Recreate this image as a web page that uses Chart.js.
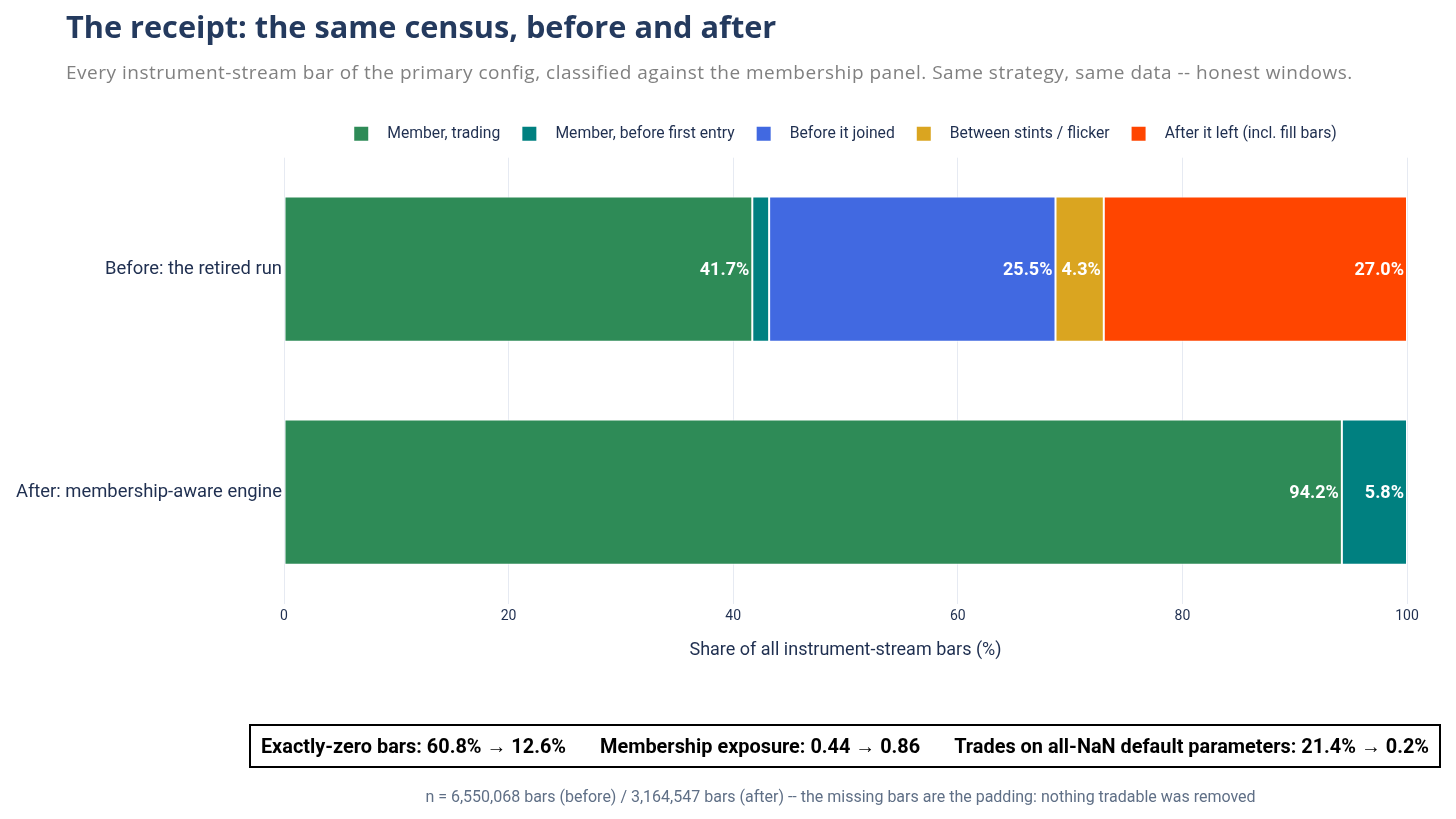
<!DOCTYPE html>
<html>
<head>
<meta charset="utf-8">
<script src="https://cdn.jsdelivr.net/npm/chart.js@4.4.1/dist/chart.umd.min.js"></script>
<style>
  html, body { margin:0; padding:0; background:#fff; }
  body { width:1456px; height:819px; position:relative; overflow:hidden; font-family: Roboto, "Noto Sans", sans-serif; }
  #wrap { position:absolute; left:0; top:0; width:1456px; height:819px; }
  #title { position:absolute; left:66px; top:5px; font-family: "Open Sans", Lato, sans-serif; font-weight:700; font-size:30.7px; color:#243a5e; white-space:nowrap; }
  #subtitle { position:absolute; left:66px; top:59px; font-family: "Open Sans", Lato, sans-serif; font-weight:400; font-size:19px; letter-spacing:0.5px; color:#808080; white-space:nowrap; }
  #box { position:absolute; left:249px; top:724px; width:1188px; height:40px; border:2px solid #000; display:flex; align-items:center; justify-content:center; font-family: Roboto, sans-serif; font-weight:700; font-size:19.9px; color:#000; white-space:nowrap; }
  #box span + span { margin-left:34px; }
  #foot { position:absolute; left:0; width:1681px; top:787px; text-align:center; font-family: Roboto, sans-serif; font-size:16px; color:#5f6f86; white-space:nowrap; }
</style>
</head>
<body>
<div id="wrap"><canvas id="c" width="1456" height="819"></canvas></div>
<div id="title">The receipt: the same census, before and after</div>
<div id="subtitle">Every instrument-stream bar of the primary config, classified against the membership panel. Same strategy, same data -- honest windows.</div>
<div id="box"><span>Exactly-zero bars: 60.8% &rarr; 12.6%</span><span>Membership exposure: 0.44 &rarr; 0.86</span><span>Trades on all-NaN default parameters: 21.4% &rarr; 0.2%</span></div>
<div id="foot">n = 6,550,068 bars (before) / 3,164,547 bars (after) -- the missing bars are the padding: nothing tradable was removed</div>
<script>
const categories = ["Before: the retired run", "After: membership-aware engine"];
const seriesNames = ["Member, trading", "Member, before first entry", "Before it joined", "Between stints / flicker", "After it left (incl. fill bars)"];
const memberTrading = [41.7, 94.2];
const memberBeforeEntry = [1.5, 5.8];
const beforeJoined = [25.5, 0];
const betweenStints = [4.3, 0];
const afterLeft = [27.0, 0];
const seriesColors = ["#2E8B57", "#008080", "#4169E1", "#DAA520", "#FF4500"];
const xTicks = [0, 20, 40, 60, 80, 100];

const seriesValues = [memberTrading, memberBeforeEntry, beforeJoined, betweenStints, afterLeft];

const datasets = seriesValues.map((vals, i) => ({
  label: seriesNames[i],
  data: vals,
  backgroundColor: seriesColors[i],
  borderColor: "rgba(255,255,255,0.85)",
  borderWidth: 1,
  borderSkipped: false,
  categoryPercentage: 0.8,
  barPercentage: 0.815
}));

const labelPlugin = {
  id: 'segLabels',
  afterDatasetsDraw(chart) {
    const ctx = chart.ctx;
    ctx.save();
    ctx.font = "700 18px Roboto";
    ctx.fillStyle = "#ffffff";
    ctx.textAlign = "right";
    ctx.textBaseline = "middle";
    chart.data.datasets.forEach((ds, di) => {
      const meta = chart.getDatasetMeta(di);
      meta.data.forEach((el, i) => {
        const v = ds.data[i];
        if (v >= 2) {
          ctx.fillText(v.toFixed(1) + "%", el.x - 3, el.y + 1);
        }
      });
    });
    ctx.restore();
  }
};

const legendMargin = {
  id: 'legendMargin',
  beforeInit(chart) {
    const fit = chart.legend.fit;
    chart.legend.fit = function() { fit.bind(chart.legend)(); this.height += 6; };
  }
};

new Chart(document.getElementById('c'), {
  type: 'bar',
  data: { labels: categories, datasets: datasets },
  options: {
    responsive: false,
    animation: false,
    indexAxis: 'y',
    layout: { padding: { left: 0, right: 49, top: 104, bottom: 154 } },
    plugins: {
      legend: {
        display: true,
        position: 'top',
        fullSize: false,
        labels: {
          boxWidth: 14,
          boxHeight: 14,
          padding: 22,
          color: "#1f2f50",
          font: { family: "Roboto", size: 15.7 },
          generateLabels(chart) {
            return chart.data.datasets.map((ds, i) => ({
              text: "\u2002\u2009" + ds.label,
              fillStyle: ds.backgroundColor,
              strokeStyle: ds.backgroundColor,
              lineWidth: 0,
              fontColor: "#1f2f50",
              hidden: false,
              datasetIndex: i
            }));
          }
        }
      },
      tooltip: { enabled: false }
    },
    scales: {
      x: {
        stacked: true,
        min: 0,
        max: 100,
        afterBuildTicks(scale) { scale.ticks = xTicks.map(v => ({ value: v })); },
        grid: { color: "#e6eaf2", drawTicks: false, lineWidth: 1 },
        border: { display: false },
        ticks: { color: "#1f2f50", font: { family: "Roboto", size: 14 }, padding: 4 },
        title: { display: true, text: "Share of all instrument-stream bars (%)", color: "#1f2f50", font: { family: "Roboto", size: 18 }, padding: { top: 11, bottom: 4 } }
      },
      y: {
        stacked: true,
        afterFit(scale) { scale.width = 284; },
        grid: { display: false, drawTicks: false },
        border: { display: false },
        ticks: { color: "#1f2f50", font: { family: "Roboto", size: 18.4 }, padding: 2 }
      }
    }
  },
  plugins: [labelPlugin, legendMargin]
});
</script>
</body>
</html>
